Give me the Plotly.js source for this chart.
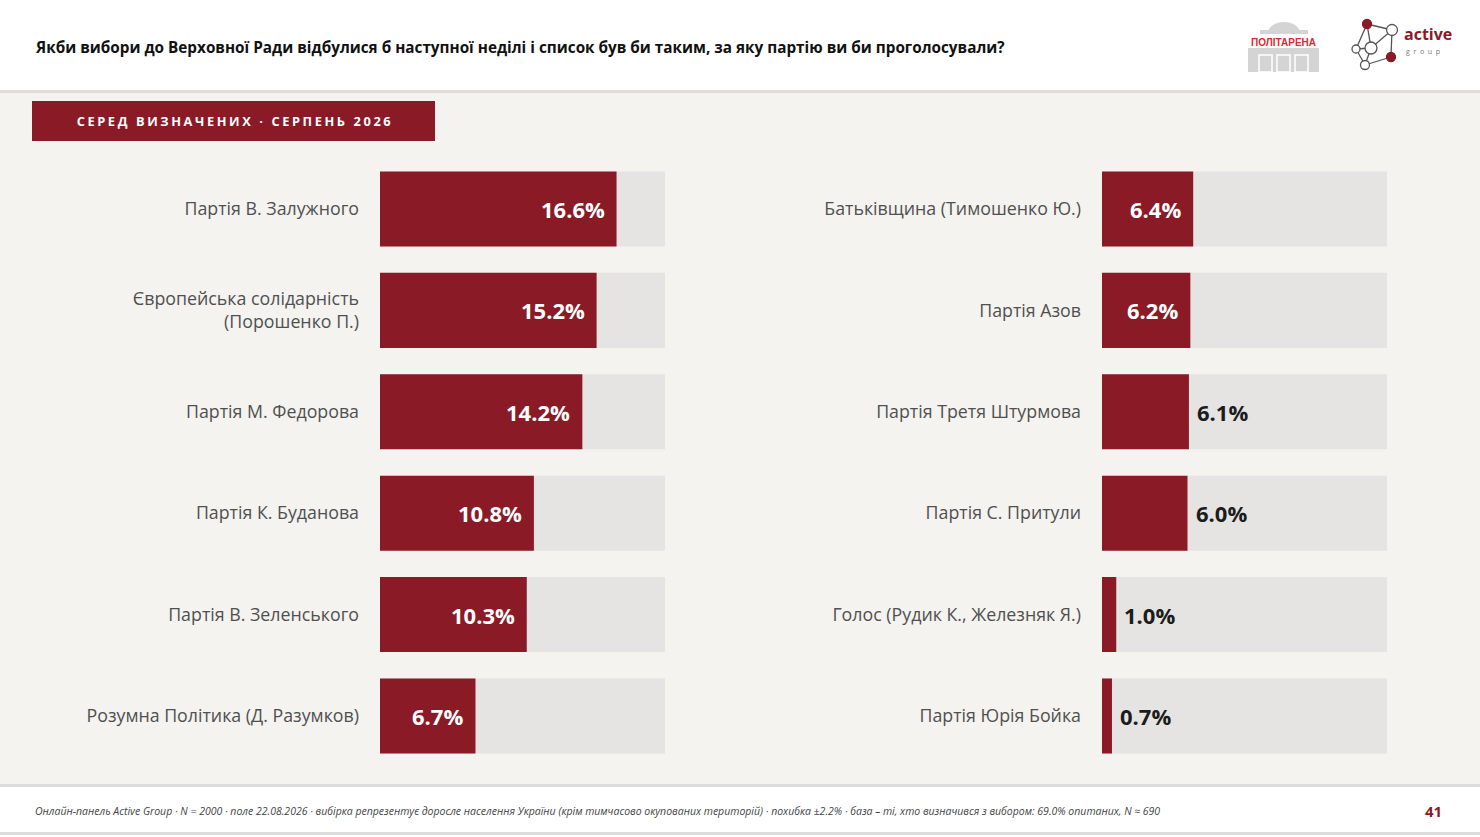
<!DOCTYPE html>
<html>
<head>
<meta charset="utf-8">
<script src="https://cdn.plot.ly/plotly-3.0.1.min.js"></script>
<style>
  html, body { margin: 0; padding: 0; background: #f4f3ef; }
  #chart { width: 1480px; height: 837px; }
  .annotation[data-index="1"] text { letter-spacing: 2.6px; }
</style>
</head>
<body>
<div id="chart"></div>
<script>
// ===== Data =====
const partiesLeft = [
  'Партія В. Залужного',
  'Європейська солідарність<br>(Порошенко П.)',
  'Партія М. Федорова',
  'Партія К. Буданова',
  'Партія В. Зеленського',
  'Розумна Політика (Д. Разумков)'
];
const valuesLeft = [16.6, 15.2, 14.2, 10.8, 10.3, 6.7];

const partiesRight = [
  'Батьківщина (Тимошенко Ю.)',
  'Партія Азов',
  'Партія Третя Штурмова',
  'Партія С. Притули',
  'Голос (Рудик К., Железняк Я.)',
  'Партія Юрія Бойка'
];
const valuesRight = [6.4, 6.2, 6.1, 6.0, 1.0, 0.7];

const TITLE = 'Якби вибори до Верховної Ради відбулися б наступної неділі і список був би таким, за яку партію ви би проголосували?';
const BADGE = 'СЕРЕД ВИЗНАЧЕНИХ · СЕРПЕНЬ 2026';
const FOOTNOTE = 'Онлайн-панель Active Group · N = 2000 · поле 22.08.2026 · вибірка репрезентує доросле населення України (крім тимчасово окупованих територій) · похибка ±2.2% · база – ті, хто визначився з вибором: 69.0% опитаних, N ≈ 690';
const PAGE = '41';

// ===== Style =====
const W = 1480, H = 837;
const SCALE_MAX = 20;          // width of the grey track
const INSIDE_MIN = 6.2;        // labels drawn inside the bar from here up
const RED = '#8b1a27';
const TRACK = '#e5e4e2';
const BG = '#f4f3ef';
const FONT = '"Open Sans", "Noto Sans", sans-serif';

const X = px => px / W;
const Y = py => 1 - py / H;

function barTraces(cats, vals, xa, ya) {
  return [
    {
      type: 'bar', orientation: 'h', y: cats, x: cats.map(() => SCALE_MAX),
      xaxis: xa, yaxis: ya, width: 0.74,
      marker: { color: TRACK }, hoverinfo: 'skip'
    },
    {
      type: 'bar', orientation: 'h', y: cats, x: vals,
      xaxis: xa, yaxis: ya, width: 0.74,
      marker: { color: RED }, hoverinfo: 'skip'
    }
  ];
}

function valueLabels(cats, vals, xa, ya) {
  return vals.map((v, i) => {
    const inside = v >= INSIDE_MIN;
    return {
      xref: xa, yref: ya, x: v, y: cats[i],
      text: '<b>' + v.toFixed(1) + '%</b>',
      showarrow: false,
      xanchor: inside ? 'right' : 'left',
      xshift: inside ? -10 : 6,
      font: { family: FONT, size: 22, color: inside ? '#ffffff' : '#1c1c1c' }
    };
  });
}

const yAxisBase = {
  type: 'category', autorange: 'reversed', domain: [0.0840, 0.8109],
  showgrid: false, zeroline: false, showline: false, ticks: '',
  ticklabelstandoff: 20,
  tickfont: { family: FONT, size: 17.8, color: '#505050' }
};
const xAxisBase = {
  range: [0, SCALE_MAX], showgrid: false, zeroline: false,
  showline: false, showticklabels: false, fixedrange: true
};

const data = [
  ...barTraces(partiesLeft, valuesLeft, 'x', 'y'),
  ...barTraces(partiesRight, valuesRight, 'x2', 'y2')
];

// ===== Decoration: header, badge, footer, logos =====
const shapes = [
  { type: 'rect', xref: 'paper', yref: 'paper', x0: 0, x1: 1, y0: Y(0), y1: Y(90), fillcolor: '#ffffff', line: { width: 0 }, layer: 'below' },
  { type: 'line', xref: 'paper', yref: 'paper', x0: 0, x1: 1, y0: Y(91.5), y1: Y(91.5), line: { color: '#dddddd', width: 3 } },
  { type: 'rect', xref: 'paper', yref: 'paper', x0: X(32), x1: X(435), y0: Y(101), y1: Y(141), fillcolor: RED, line: { width: 0 } },
  { type: 'line', xref: 'paper', yref: 'paper', x0: 0, x1: 1, y0: Y(785.5), y1: Y(785.5), line: { color: '#dcdcdc', width: 3 } },
  { type: 'rect', xref: 'paper', yref: 'paper', x0: 0, x1: 1, y0: Y(787), y1: Y(832), fillcolor: '#ffffff', line: { width: 0 }, layer: 'below' },
  { type: 'line', xref: 'paper', yref: 'paper', x0: 0, x1: 1, y0: Y(833.5), y1: Y(833.5), line: { color: '#dcdcdc', width: 3 } },
  { type: 'rect', xref: 'paper', yref: 'paper', x0: 0, x1: 1, y0: Y(835), y1: Y(837), fillcolor: '#ffffff', line: { width: 0 }, layer: 'below' },

  // Політарена logo
  { type: 'circle', xref: 'paper', yref: 'paper', x0: X(1268), x1: X(1300), y0: Y(22), y1: Y(44), fillcolor: '#d4d4d4', line: { width: 0 } },
  { type: 'rect', xref: 'paper', yref: 'paper', x0: X(1255), x1: X(1312), y0: Y(33), y1: Y(47), fillcolor: '#ffffff', line: { width: 0 } },
  { type: 'rect', xref: 'paper', yref: 'paper', x0: X(1260), x1: X(1308), y0: Y(30), y1: Y(34), fillcolor: '#d4d4d4', line: { width: 0 } },
  { type: 'rect', xref: 'paper', yref: 'paper', x0: X(1248), x1: X(1319), y0: Y(48), y1: Y(72), fillcolor: '#d4d4d4', line: { width: 0 } },
  { type: 'rect', xref: 'paper', yref: 'paper', x0: X(1259), x1: X(1272), y0: Y(55), y1: Y(72), fillcolor: 'rgba(0,0,0,0)', line: { color: '#ffffff', width: 1.5 } },
  { type: 'rect', xref: 'paper', yref: 'paper', x0: X(1277), x1: X(1290), y0: Y(55), y1: Y(72), fillcolor: 'rgba(0,0,0,0)', line: { color: '#ffffff', width: 1.5 } },
  { type: 'rect', xref: 'paper', yref: 'paper', x0: X(1295), x1: X(1308), y0: Y(55), y1: Y(72), fillcolor: 'rgba(0,0,0,0)', line: { color: '#ffffff', width: 1.5 } }
];

// active group network
const nodes = [
  [1367, 24, 4.5, RED], [1392, 30, 5.5, '#fff'], [1371, 48, 6, '#fff'],
  [1356, 49, 4, '#fff'], [1391, 57, 4.5, RED], [1365, 65, 4.5, '#fff']
];
const links = [[0, 1], [0, 3], [1, 2], [1, 4], [3, 2], [3, 5], [2, 5], [5, 4], [0, 2]];
links.forEach(([a, b]) => shapes.push({
  type: 'line', xref: 'paper', yref: 'paper',
  x0: X(nodes[a][0]), y0: Y(nodes[a][1]), x1: X(nodes[b][0]), y1: Y(nodes[b][1]),
  line: { color: '#555555', width: 1.3 }
}));
nodes.forEach(([cx, cy, r, c]) => shapes.push({
  type: 'circle', xref: 'paper', yref: 'paper',
  x0: X(cx - r), x1: X(cx + r), y0: Y(cy - r), y1: Y(cy + r),
  fillcolor: c, line: { color: c === RED ? RED : '#555555', width: 1.3 }
}));

const annotations = [
  { xref: 'paper', yref: 'paper', x: X(33), y: Y(47), xanchor: 'left', yanchor: 'middle', showarrow: false,
    text: '<b>' + TITLE + '</b>', font: { family: FONT, size: 15.3, color: '#111111' } },
  { xref: 'paper', yref: 'paper', x: X(235), y: Y(121), xanchor: 'center', yanchor: 'middle', showarrow: false,
    text: '<b>' + BADGE + '</b>', font: { family: FONT, size: 12.8, color: '#ffffff' } },
  { xref: 'paper', yref: 'paper', x: X(33), y: Y(811), xanchor: 'left', yanchor: 'middle', showarrow: false,
    text: '<i>' + FOOTNOTE + '</i>', font: { family: FONT, size: 10.5, color: '#444444' } },
  { xref: 'paper', yref: 'paper', x: X(1444), y: Y(811), xanchor: 'right', yanchor: 'middle', showarrow: false,
    text: '<b>' + PAGE + '</b>', font: { family: FONT, size: 15, color: RED } },
  { xref: 'paper', yref: 'paper', x: X(1283.5), y: Y(42.5), xanchor: 'center', yanchor: 'middle', showarrow: false,
    text: '<b>ПОЛІТАРЕНА</b>', font: { family: '"Liberation Sans", Arial, sans-serif', size: 10, color: '#e0282f' } },
  { xref: 'paper', yref: 'paper', x: X(1402), y: Y(34), xanchor: 'left', yanchor: 'middle', showarrow: false,
    text: '<b>active</b>', font: { family: FONT, size: 16, color: RED } },
  { xref: 'paper', yref: 'paper', x: X(1404), y: Y(52), xanchor: 'left', yanchor: 'middle', showarrow: false,
    text: 'g  r  o  u  p', font: { family: FONT, size: 7, color: '#777777' } },
  ...valueLabels(partiesLeft, valuesLeft, 'x', 'y'),
  ...valueLabels(partiesRight, valuesRight, 'x2', 'y2')
];

const layout = {
  width: W, height: H,
  paper_bgcolor: BG, plot_bgcolor: 'rgba(0,0,0,0)',
  margin: { l: 0, r: 0, t: 0, b: 0 },
  barmode: 'overlay', showlegend: false,
  font: { family: FONT },
  xaxis: { ...xAxisBase, domain: [X(380), X(665)], anchor: 'y' },
  yaxis: { ...yAxisBase, anchor: 'x' },
  xaxis2: { ...xAxisBase, domain: [X(1102), X(1387)], anchor: 'y2' },
  yaxis2: { ...yAxisBase, anchor: 'x2' },
  shapes, annotations
};

Plotly.newPlot('chart', data, layout, { displayModeBar: false, staticPlot: true });
</script>
</body>
</html>
